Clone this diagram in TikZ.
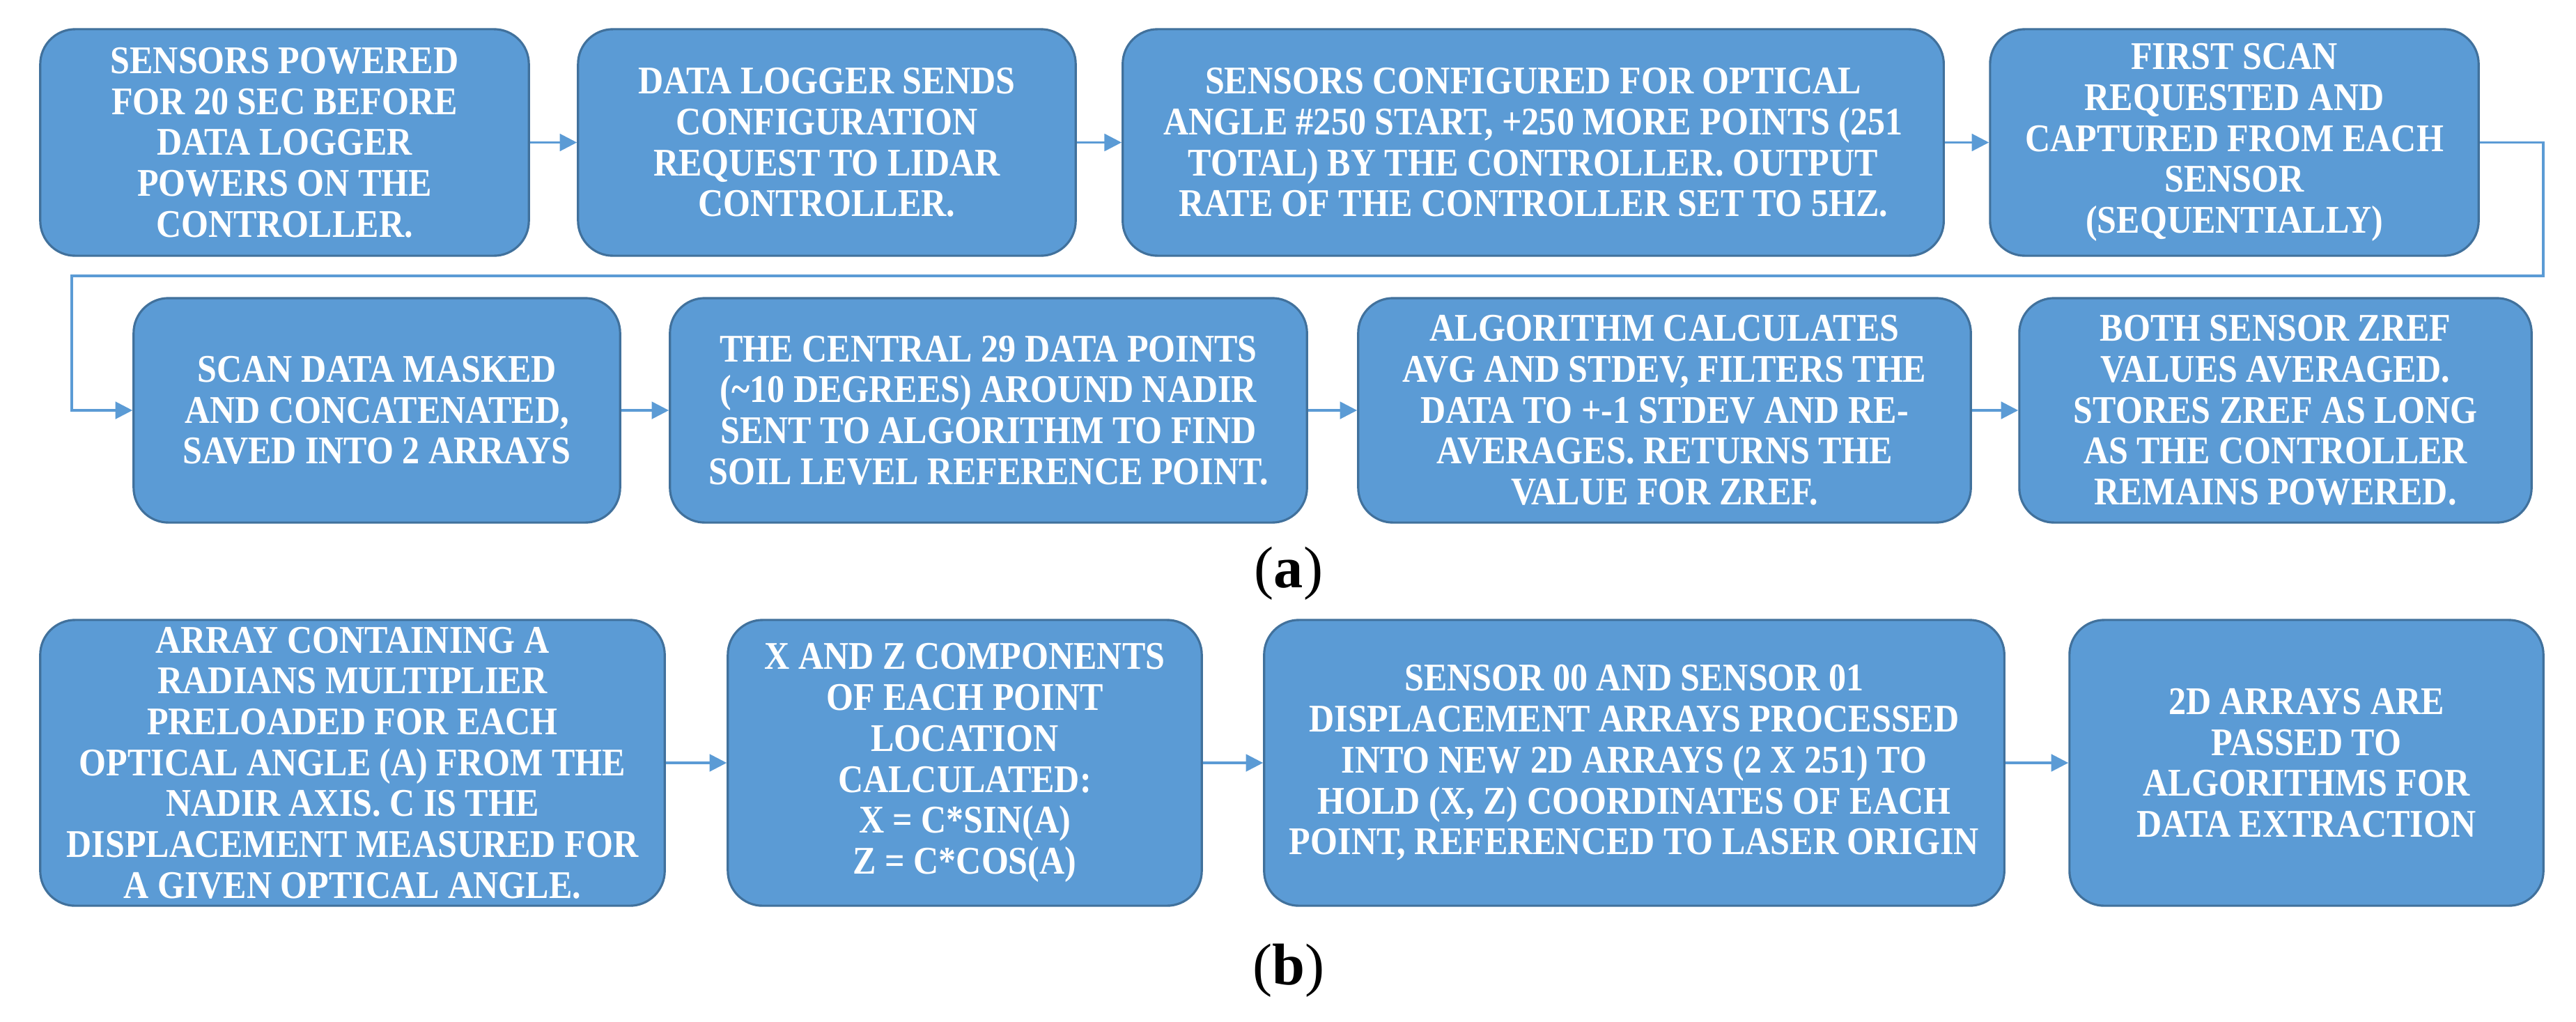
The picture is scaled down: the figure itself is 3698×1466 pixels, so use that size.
\documentclass[tikz,border=0pt]{standalone}
\usepackage{fontspec}
\setmainfont{Liberation Serif}
\newfontfamily\bx[FakeStretch=0.89]{Liberation Serif}
\usetikzlibrary{arrows.meta}
\definecolor{boxfill}{HTML}{5B9BD5}
\definecolor{boxline}{HTML}{41719C}
\definecolor{arr}{HTML}{5B9BD5}
\tikzset{
  box/.style={draw=boxline, line width=0.9pt, fill=boxfill, rounded corners=0.5cm,
    text=white, align=center, font=\bx\bfseries\fontsize{16}{16.7}\selectfont, inner sep=2pt},
  conn/.style={draw=arr, line width=0.9pt, -{Triangle[length=7pt,width=7pt]}},
  lab/.style={font=\fontsize{24}{26}\selectfont}
}
\begin{document}
\begin{tikzpicture}[x=0.01cm,y=-0.01cm]
\useasboundingbox (0,0) rectangle (3698,1466);
\node[box, minimum width=7.01cm, minimum height=3.25cm] (b1) at (408.5,204.5) {SENSORS POWERED\\FOR 20 SEC BEFORE\\DATA LOGGER\\POWERS ON THE\\CONTROLLER.};
\node[box, minimum width=7.14cm, minimum height=3.25cm] (b2) at (1187,204.5) {DATA LOGGER SENDS\\CONFIGURATION\\REQUEST TO LIDAR\\CONTROLLER.};
\node[box, minimum width=11.78cm, minimum height=3.25cm] (b3) at (2201,204.5) {SENSORS CONFIGURED FOR OPTICAL\\ANGLE \#250 START, +250 MORE POINTS (251\\TOTAL) BY THE CONTROLLER.  OUTPUT\\RATE OF THE CONTROLLER SET TO 5HZ.};
\node[box, minimum width=7.01cm, minimum height=3.25cm] (b4) at (3207.5,204.5) {FIRST SCAN\\REQUESTED AND\\CAPTURED FROM EACH\\SENSOR\\(SEQUENTIALLY)};
\node[box, minimum width=6.98cm, minimum height=3.22cm] (b5) at (541,589) {SCAN DATA MASKED\\AND CONCATENATED,\\SAVED INTO 2 ARRAYS};
\node[box, minimum width=9.14cm, minimum height=3.22cm] (b6) at (1419,589) {THE CENTRAL 29 DATA POINTS\\(\textasciitilde10 DEGREES) AROUND NADIR\\SENT TO ALGORITHM TO FIND\\SOIL LEVEL REFERENCE POINT.};
\node[box, minimum width=8.79cm, minimum height=3.22cm] (b7) at (2389.5,589) {ALGORITHM CALCULATES\\AVG AND STDEV, FILTERS THE\\DATA TO +-1 STDEV AND RE-\\AVERAGES. RETURNS THE\\VALUE FOR ZREF.};
\node[box, minimum width=7.35cm, minimum height=3.22cm] (b8) at (3266.5,589) {BOTH SENSOR ZREF\\VALUES AVERAGED.\\STORES ZREF AS LONG\\AS THE CONTROLLER\\REMAINS POWERED.};
\node[box, minimum width=8.96cm, minimum height=4.10cm] (c1) at (506,1095) {ARRAY CONTAINING A\\RADIANS MULTIPLIER\\PRELOADED FOR EACH\\OPTICAL ANGLE (A) FROM THE\\NADIR AXIS. C IS THE\\DISPLACEMENT MEASURED FOR\\A GIVEN OPTICAL ANGLE.};
\node[box, minimum width=6.80cm, minimum height=4.10cm] (c2) at (1385,1095) {X AND Z COMPONENTS\\OF EACH POINT\\LOCATION\\CALCULATED:\\X = C*SIN(A)\\Z = C*COS(A)};
\node[box, minimum width=10.62cm, minimum height=4.10cm] (c3) at (2346,1095) {SENSOR 00 AND SENSOR 01\\DISPLACEMENT ARRAYS PROCESSED\\INTO NEW 2D ARRAYS (2 X 251) TO\\HOLD (X, Z) COORDINATES OF EACH\\POINT, REFERENCED TO LASER ORIGIN};
\node[box, minimum width=6.80cm, minimum height=4.10cm] (c4) at (3311,1095) {2D ARRAYS ARE\\PASSED TO\\ALGORITHMS FOR\\DATA EXTRACTION};
\node[lab] (la) at (1850,823) {(\textbf{a})};
\node[lab] (lb) at (1850,1393) {(\textbf{b})};
\draw[conn] (b1) -- (b2);
\draw[conn] (b2) -- (b3);
\draw[conn] (b3) -- (b4);
\coordinate (r1) at (3651,204.5);
\coordinate (r2) at (3651,396);
\coordinate (r3) at (103,396);
\coordinate (r4) at (103,589);
\draw[conn] (b4.east) -- (r1) -- (r2) -- (r3) -- (r4) -- (b5.west);
\draw[conn] (b5) -- (b6);
\draw[conn] (b6) -- (b7);
\draw[conn] (b7) -- (b8);
\draw[conn] (c1) -- (c2);
\draw[conn] (c2) -- (c3);
\draw[conn] (c3) -- (c4);
\end{tikzpicture}
\end{document}
